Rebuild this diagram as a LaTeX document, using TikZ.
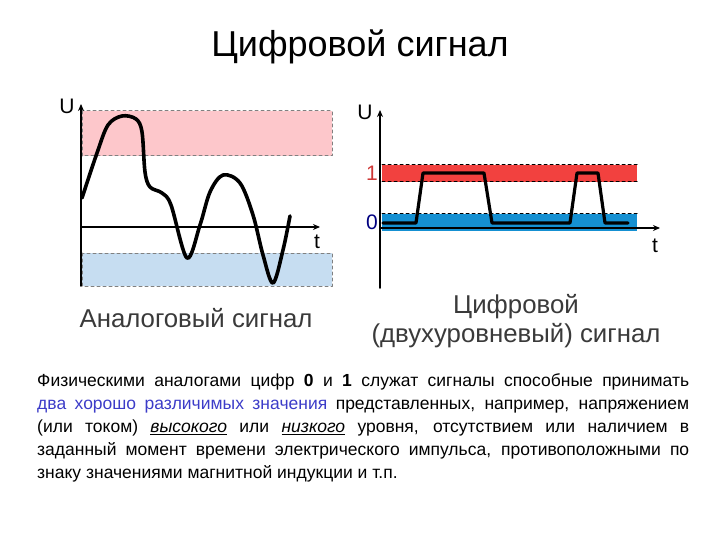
\documentclass[tikz,border=0pt]{standalone}
\usepackage{fontspec}
\setmainfont{Liberation Sans}
\usetikzlibrary{arrows.meta}
\definecolor{hiband}{HTML}{FDC7CB}
\definecolor{loband}{HTML}{C6DDF1}
\definecolor{hidig}{HTML}{F2413F}
\definecolor{lodig}{HTML}{1590D2}
\definecolor{capgray}{HTML}{3A3A3A}
\definecolor{linkblue}{HTML}{3C3CC8}
\tikzset{sigpic/.style={x=1pt,y=-1pt,line join=round,line cap=round},
  axis/.style={line width=1.8pt,-{Stealth[length=7pt,width=6pt]}},
  bandedge/.style={gray,dashed,line width=1pt},
  wave/.style={line width=3.6pt},
  lbl/.style={font=\fontsize{21}{21}\selectfont,inner sep=0pt},
  capt/.style={capgray,font=\fontsize{25.8}{29}\selectfont,align=center,inner sep=0pt}}

\begin{document}
\begin{tikzpicture}[sigpic]
  \useasboundingbox (0,0) rectangle (720,540);
  \node[font=\fontsize{36}{40}\selectfont,inner sep=0pt] (title) at (360,47) {Цифровой сигнал};
  % analog
  \fill[hiband] (82,111) rectangle (332,156);
  \fill[loband] (82,253) rectangle (332,286);
  \draw[bandedge] (82,111) rectangle (332,156);
  \draw[bandedge] (82,253) rectangle (332,286);
  \coordinate (a0) at (81,286);\coordinate (aU) at (81,104);
  \coordinate (at0) at (81,227);\coordinate (at) at (320,227);
  \draw[axis] (a0)--(aU);
  \draw[axis] (at0)--(at);
  \node[lbl] (aUl) at (67,106) {U};
  \node[lbl] (atl) at (317,242) {t};
  \draw[wave] plot[smooth,tension=.55] coordinates {(82,198) (97,153) (108,125) (122,116) (136,119) (142,132) (145,172) (150,187) (162,193) (171,205) (187,258) (200,225) (210,192) (223,175) (240,183) (253,215) (263,255) (273,283) (283,250) (290,216)};
  \node[capt] (acap) at (196,318) {Аналоговый сигнал};
  % digital
  \fill[hidig] (382,165) rectangle (637,182);
  \fill[lodig] (382,214) rectangle (637,231);
  \foreach \y in {165,182,214}{\draw[black,dashed,line width=1pt] (382,\y)--(637,\y);}
  \coordinate (d0) at (380,288);\coordinate (dU) at (380,110);
  \coordinate (dt0) at (380,228);\coordinate (dt) at (660,228);
  \draw[axis] (d0)--(dU);
  \draw[axis] (dt0)--(dt);
  \node[lbl] (dUl) at (365,112) {U};
  \node[lbl] (dtl) at (655,246) {t};
  \node[lbl,hidig!85!black] (one) at (372,173) {1};
  \node[lbl,blue!50!black] (zero) at (372,222) {0};
  \draw[line width=3.2pt] (383,223)--(416,223)--(423,173)--(484,173)--(492,223)--(570,223)--(577,173)--(598,173)--(605,223)--(628,223);
  \node[capt] (dcap) at (516,321) {Цифровой\\(двухуровневый) сигнал};
  % text
  \node[anchor=north west,inner sep=0pt,text width=652pt,align=justify,font=\fontsize{17.5}{23.2}\selectfont] (para) at (37,373) {Физическими аналогами цифр \textbf{0} и \textbf{1} служат сигналы способные принимать\linebreak
  \textcolor{linkblue}{два хорошо различимых значения} представленных, например, напряжением\linebreak
  (или током) \underline{\textit{высокого}} или \underline{\textit{низкого}} уровня, отсутствием или наличием в\linebreak
  заданный момент времени электрического импульса, противоположными по\linebreak
  знаку значениями магнитной индукции и т.п.};
\end{tikzpicture}
\end{document}
